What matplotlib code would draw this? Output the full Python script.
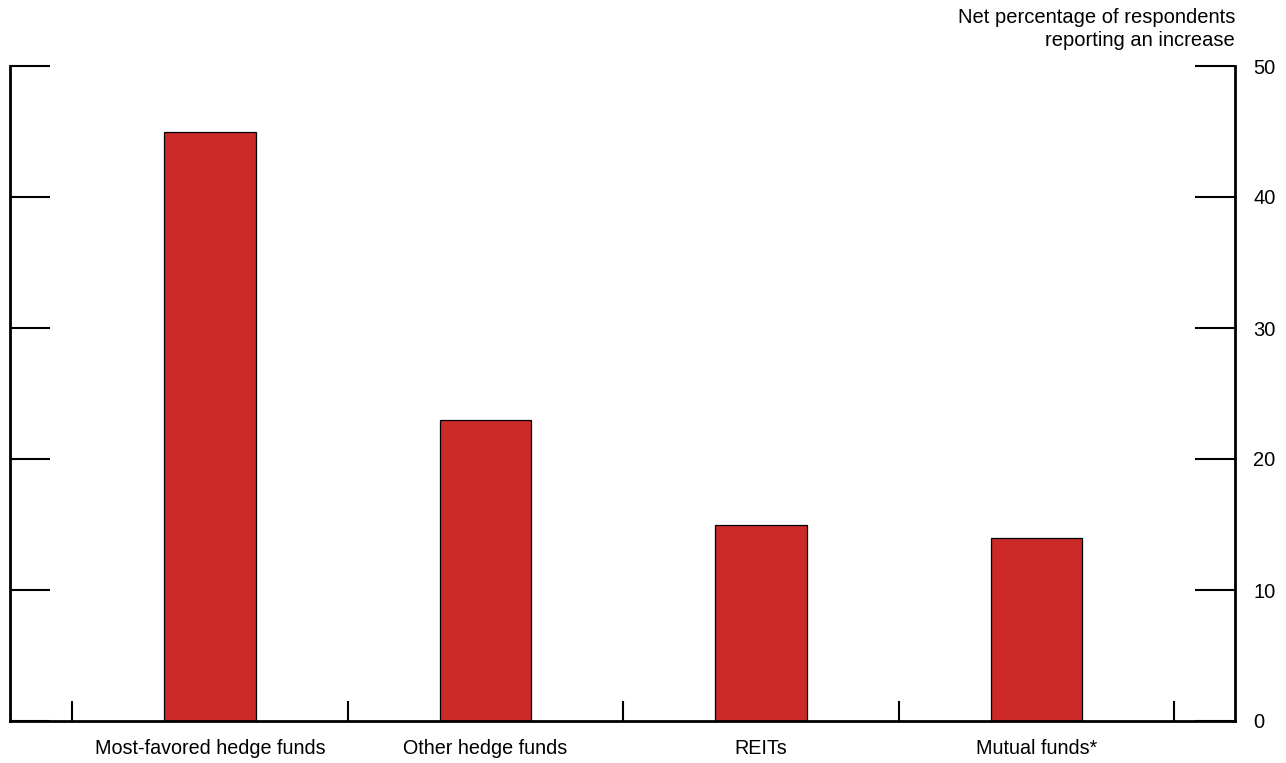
import matplotlib
matplotlib.use("Agg")
import matplotlib.pyplot as plt
import numpy as np

plt.rcParams['font.family'] = ['Liberation Sans', 'DejaVu Sans']

# dane
categories = ["Most-favored hedge funds", "Other hedge funds", "REITs", "Mutual funds*"]
values = [45, 23, 15, 14]
y_ticks = [0, 10, 20, 30, 40, 50]

fig = plt.figure(figsize=(12.86, 7.63), dpi=100)
ax = fig.add_axes([10/1286, 42/763, 1225/1286, 655/763])

x = np.arange(len(categories))
ax.bar(x, values, width=0.333, color="#CC2929", edgecolor="black", linewidth=0.9)

ax.set_xlim(-0.726, 3.72)
ax.set_ylim(0, 50)

# os y - kreski po obu stronach, opisy po prawej
ax.set_yticks(y_ticks)
ax.tick_params(axis='y', which='major', direction='in', length=28.8, width=1.5,
               left=True, right=True, labelleft=False, labelright=True,
               labelsize=14.5, pad=13)

# os x - kreski miedzy kategoriami, opisy pod slupkami
ax.set_xticks(np.arange(-0.5, len(categories)), labels=[])
ax.set_xticks(x, labels=categories, minor=True)
ax.tick_params(axis='x', which='major', direction='in', length=14.4, width=1.5)
ax.tick_params(axis='x', which='minor', length=0, labelsize=14.2, pad=13)

ax.spines['top'].set_visible(False)
for s in ['left', 'right', 'bottom']:
    ax.spines[s].set_linewidth(2)

fig.text(1235/1286, 1 - 8/763, "Net percentage of respondents\nreporting an increase",
         ha='right', va='top', fontsize=14.5, linespacing=1.3)

fig.savefig("out.png", dpi=100)
